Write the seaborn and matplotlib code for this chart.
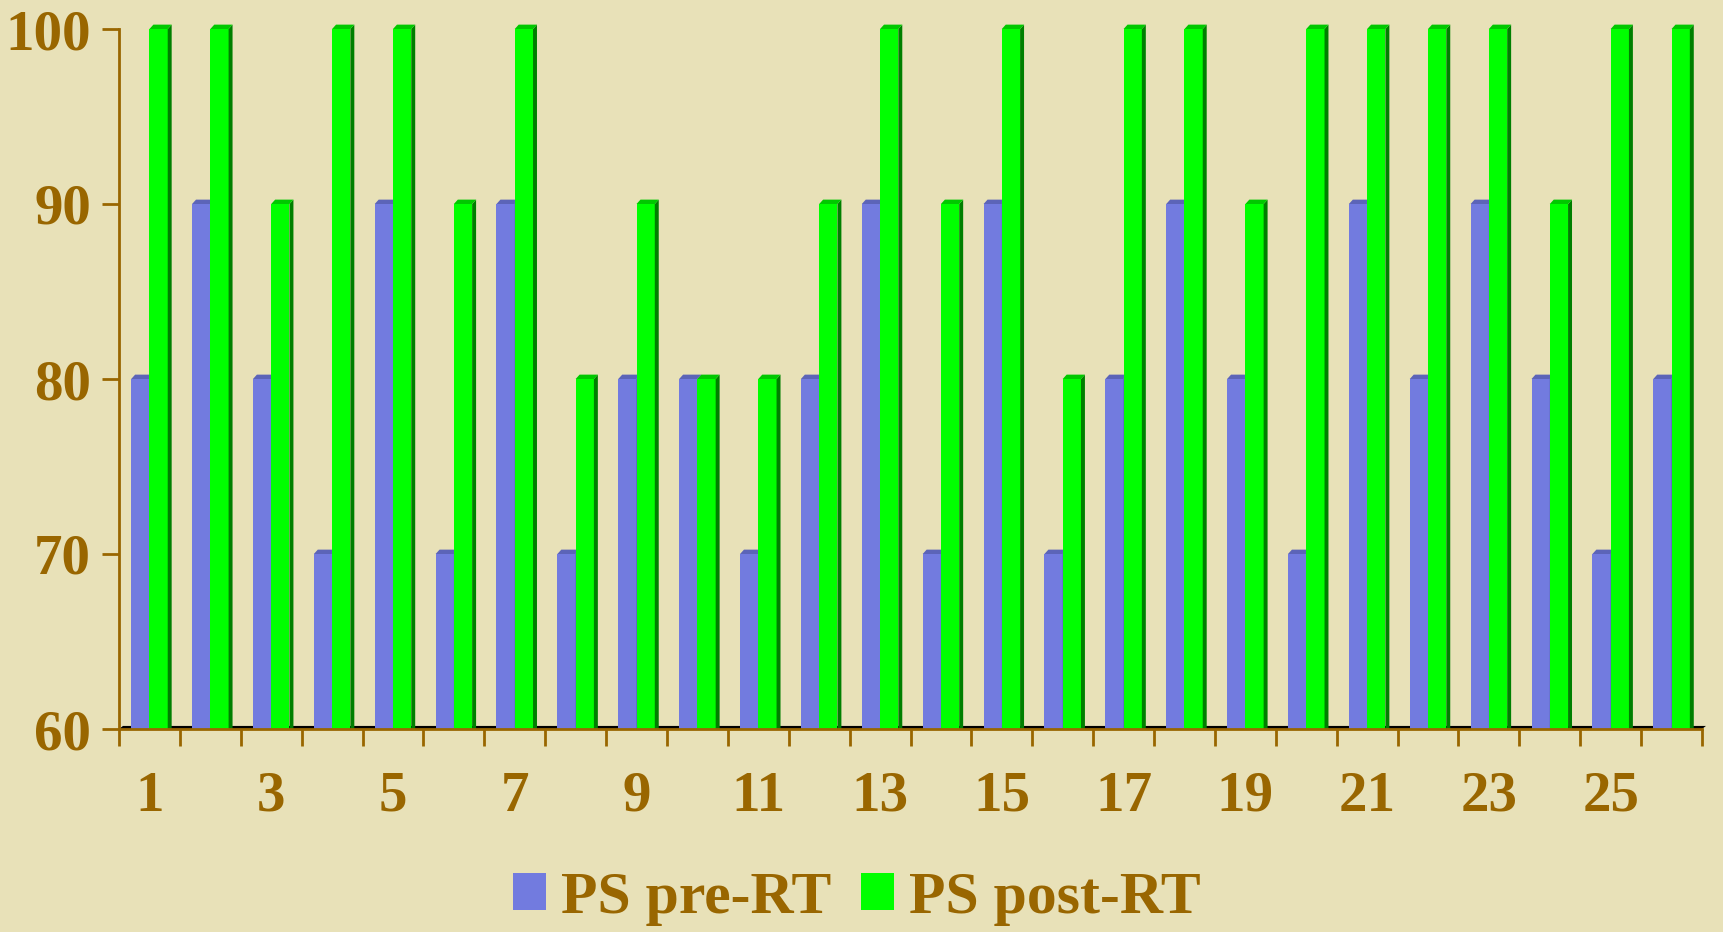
import numpy as np
import pandas as pd
import matplotlib
matplotlib.use("Agg")
import matplotlib.pyplot as plt
import seaborn as sns
from matplotlib.patches import Polygon

# ==============================================
# Data
# ==============================================
benh_nhan = [str(i) for i in range(1, 27)]
ps_pre = [80, 90, 80, 70, 90, 70, 90, 70, 80, 80, 70, 80, 90,
          70, 90, 70, 80, 90, 80, 70, 90, 80, 90, 80, 70, 80]
ps_post = [100, 100, 90, 100, 100, 90, 100, 80, 90, 80, 80, 90, 100,
           90, 100, 80, 100, 100, 90, 100, 100, 100, 100, 90, 100, 100]
nhom = ["PS pre-RT", "PS post-RT"]

df = pd.DataFrame({
    "case": benh_nhan * 2,
    "score": ps_pre + ps_post,
    "group": [nhom[0]] * len(ps_pre) + [nhom[1]] * len(ps_post),
})

nen = "#E8E1B8"
nau = "#996600"
mau = {"PS pre-RT": "#727BDF", "PS post-RT": "#00FF00"}
mau_canh = {"PS pre-RT": "#4E56A8", "PS post-RT": "#007F00"}
mau_dinh = {"PS pre-RT": "#5C64B8", "PS post-RT": "#00C800"}

sns.set_theme(style="white")
plt.rcParams["font.family"] = ["Liberation Serif", "DejaVu Serif"]
plt.rcParams["font.weight"] = "bold"

fig = plt.figure(figsize=(17.23, 9.32), dpi=100, facecolor=nen)
ax = fig.add_axes([119 / 1723, 203 / 932, (1702 - 119) / 1723, (729 - 29) / 932])
ax.set_facecolor(nen)

sns.barplot(data=df, x="case", y="score", hue="group", palette=mau,
            width=0.6, saturation=1, ax=ax, linewidth=0, zorder=2)

ax.set_ylim(60, 100)
ax.set_xlim(-0.5, 25.5)

# ---- gia 3D: mat ben va mat tren ----
dx = 0.065
dy = 0.25
x_trai, x_phai = ax.get_xlim()
san = Polygon([(x_trai, 60), (x_trai + dx, 60 + dy * 0.7), (x_phai + dx, 60 + dy * 0.7), (x_phai, 60)],
              closed=True, facecolor="black", edgecolor="none", zorder=1.5, clip_on=False)
ax.add_patch(san)

for container, ten in zip(ax.containers, nhom):
    z = 2.5 if ten == nhom[0] else 3.5
    for p in container.patches:
        x0 = p.get_x()
        x1 = x0 + p.get_width()
        h = p.get_y() + p.get_height()
        canh = Polygon([(x1, h), (x1 + dx, h + dy), (x1 + dx, 60), (x1, 60)],
                       closed=True, facecolor=mau_canh[ten], edgecolor="none",
                       zorder=z, clip_on=False)
        dinh = Polygon([(x0, h), (x0 + dx, h + dy), (x1 + dx, h + dy), (x1, h)],
                       closed=True, facecolor=mau_dinh[ten], edgecolor="none",
                       zorder=z, clip_on=False)
        ax.add_patch(canh)
        ax.add_patch(dinh)
        if ten == nhom[1]:
            p.set_zorder(3)

# ---- truc ----
for s in ["top", "right"]:
    ax.spines[s].set_visible(False)
for s in ["left", "bottom"]:
    ax.spines[s].set_color(nau)
    ax.spines[s].set_linewidth(2)
    ax.spines[s].set_zorder(4)

ax.set_yticks([60, 70, 80, 90, 100])
ax.set_xticks(range(26))
ax.set_xticklabels([b if int(b) % 2 == 1 else "" for b in benh_nhan])
ax.set_xticks(np.arange(-0.5, 26, 1), minor=True)
ax.tick_params(axis="x", which="major", length=0, pad=30, labelsize=41, labelcolor=nau)
ax.tick_params(axis="x", which="minor", length=12, width=2, color=nau, direction="out", bottom=True)
ax.tick_params(axis="y", length=12, width=2, color=nau, direction="out", left=True,
               pad=8, labelsize=41, labelcolor=nau)
ax.set_xlabel("")
ax.set_ylabel("")

sns.move_legend(ax, "center", bbox_to_anchor=(857 / 1723, 1 - 899 / 932),
                bbox_transform=fig.transFigure, ncol=2, frameon=False, title=None,
                fontsize=43, labelcolor=nau, handlelength=0.55, handleheight=0.58,
                handletextpad=0.25, columnspacing=0.5)

plt.savefig("out.png", dpi=100, facecolor=nen)
plt.close()
